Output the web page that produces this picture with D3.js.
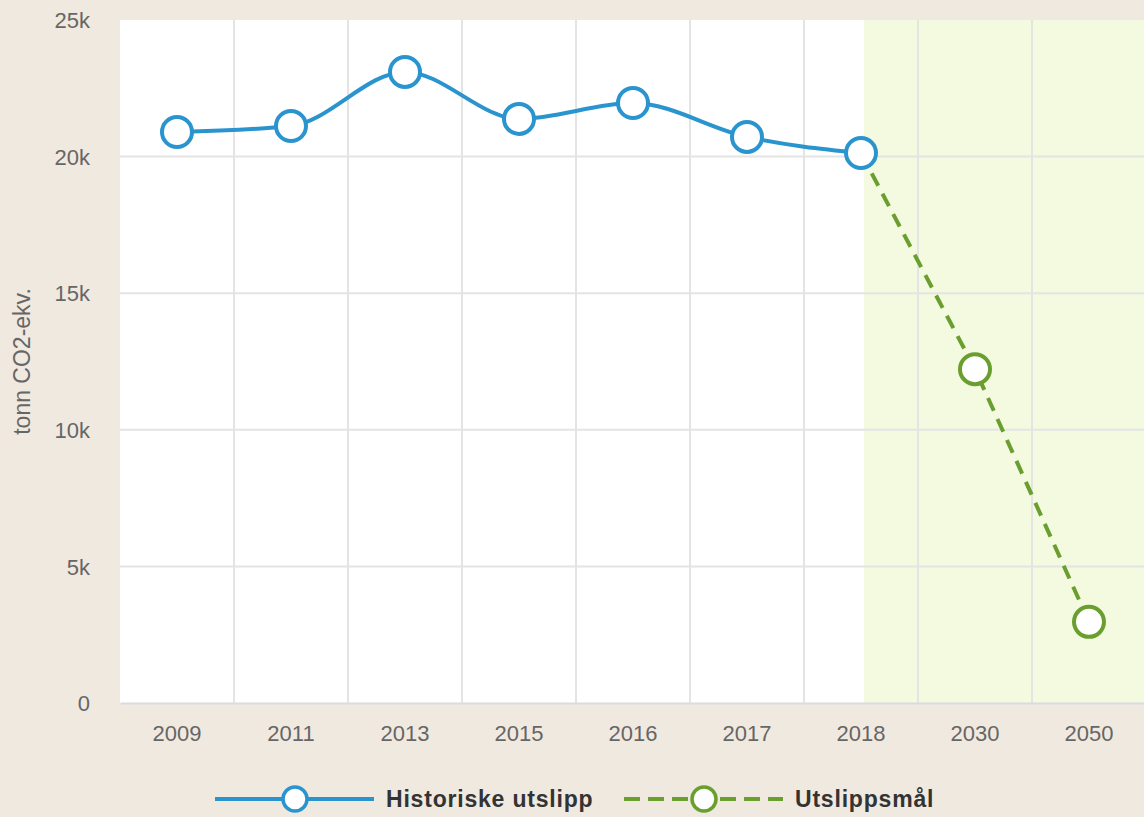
<!DOCTYPE html>
<html lang="no">
<head>
<meta charset="UTF-8">
<title>Utslipp</title>
<script src="https://cdn.jsdelivr.net/npm/d3@7"></script>
<style>
    body{
        margin: 0;
        background-color: #f0e9e0;
        font-family: "Liberation Sans", Arial, sans-serif;
        overflow: hidden;
    }
    svg{
        display: block;
    }
    .tick text{
        fill: #666;
        font-size: 22px;
    }
    .grid line{
        stroke: #e4e4e4;
        stroke-width: 2px;
    }
    .legend text{
        font-weight: bold;
        font-size: 23px;
        letter-spacing: 0.8px;
        fill: #333;
    }
</style>
</head>
<body>
<svg id="main" width="1144" height="817"></svg>
<script>
    // categories and values
    const years = ["2009","2011","2013","2015","2016","2017","2018","2030","2050"]
    const historicYears = ["2009","2011","2013","2015","2016","2017","2018"]
    const historicValues = [20900, 21120, 23100, 21380, 21960, 20720, 20130]
    const targetYears = ["2018","2030","2050"]
    const targetValues = [20130, 12220, 2970]
    const yTicks = [0, 5000, 10000, 15000, 20000, 25000]

    const seriesNames = ["Historiske utslipp","Utslippsmål"]
    const blue = "#2a94cf"
    const green = "#6a9e2e"

    const margins = {top: 20, bottom: 114, left: 120, right: -2}
    const W = 1144, H = 817

    const svg = d3.select("#main")

    const xScale = d3.scaleBand()
        .domain(years)
        .range([margins.left, W - margins.right])
    const yScale = d3.scaleLinear()
        .domain([0, 25000])
        .range([H - margins.bottom, margins.top])

    // plot background
    svg.append("rect")
        .attr("x", margins.left)
        .attr("y", margins.top)
        .attr("width", W - margins.right - margins.left)
        .attr("height", yScale(0) - margins.top)
        .attr("fill", "#fff")

    // plot band for targets (starts just after the 2018 point)
    const bandStart = xScale("2018") + xScale.bandwidth() * 0.5 + 3
    svg.append("rect")
        .attr("x", bandStart)
        .attr("y", margins.top)
        .attr("width", W - margins.right - bandStart)
        .attr("height", yScale(0) - margins.top)
        .attr("fill", "#f3fadf")

    // grid
    const grid = svg.append("g").attr("class", "grid")
    grid.selectAll(".h")
        .data(yTicks.filter(d => d > 0 && d < 25000))
        .enter().append("line")
        .attr("x1", margins.left).attr("x2", W - margins.right)
        .attr("y1", d => yScale(d)).attr("y2", d => yScale(d))
    grid.selectAll(".v")
        .data(years.slice(1))
        .enter().append("line")
        .attr("x1", d => xScale(d)).attr("x2", d => xScale(d))
        .attr("y1", margins.top).attr("y2", yScale(0))

    // axes
    const xAxis = d3.axisBottom(xScale).tickSize(0).tickPadding(22)
    svg.append("g")
        .attr("transform", `translate(0,${yScale(0)})`)
        .call(xAxis)
        .call(g => g.select(".domain").attr("stroke", "#d7dbe3").attr("stroke-width", 2))

    const yAxis = d3.axisLeft(yScale)
        .tickValues(yTicks)
        .tickSize(0)
        .tickPadding(30)
        .tickFormat(d => d === 0 ? "0" : (d / 1000) + "k")
    svg.append("g")
        .attr("transform", `translate(${margins.left},0)`)
        .call(yAxis)
        .call(g => g.select(".domain").remove())
        .selectAll("text").attr("dy", "0.35em")

    svg.append("text")
        .attr("transform", `translate(30,${(margins.top + yScale(0)) / 2}) rotate(-90)`)
        .attr("text-anchor", "middle")
        .attr("fill", "#666")
        .attr("font-size", "23px")
        .text("tonn CO2-ekv.")

    const cx = d => xScale(d) + xScale.bandwidth() / 2

    // target series (dashed)
    const targetData = targetYears.map((y, i) => ({year: y, value: targetValues[i]}))
    const targetLine = d3.line()
        .x(d => cx(d.year))
        .y(d => yScale(d.value))
    svg.append("path")
        .datum(targetData)
        .attr("d", targetLine)
        .attr("fill", "none")
        .attr("stroke", green)
        .attr("stroke-width", 4)
        .attr("stroke-dasharray", "14,9")
    svg.selectAll(".tmark")
        .data(targetData.slice(1))
        .enter().append("circle")
        .attr("cx", d => cx(d.year))
        .attr("cy", d => yScale(d.value))
        .attr("r", 15)
        .attr("fill", "#fff")
        .attr("stroke", green)
        .attr("stroke-width", 4)

    // historic series
    const histData = historicYears.map((y, i) => ({year: y, value: historicValues[i]}))
    const histLine = d3.line()
        .x(d => cx(d.year))
        .y(d => yScale(d.value))
        .curve(d3.curveMonotoneX)
    svg.append("path")
        .datum(histData)
        .attr("d", histLine)
        .attr("fill", "none")
        .attr("stroke", blue)
        .attr("stroke-width", 4)
    svg.selectAll(".hmark")
        .data(histData)
        .enter().append("circle")
        .attr("cx", d => cx(d.year))
        .attr("cy", d => yScale(d.value))
        .attr("r", 15)
        .attr("fill", "#fff")
        .attr("stroke", blue)
        .attr("stroke-width", 4)

    // legend
    const legend = svg.append("g").attr("class", "legend").attr("transform", "translate(0,799)")
    const items = [
        {name: seriesNames[0], color: blue, dash: null, x: 215},
        {name: seriesNames[1], color: green, dash: "16,8", x: 624}
    ]
    items.forEach(it => {
        const g = legend.append("g").attr("transform", `translate(${it.x},0)`)
        g.append("line")
            .attr("x1", 0).attr("x2", 159)
            .attr("stroke", it.color)
            .attr("stroke-width", 4)
            .attr("stroke-dasharray", it.dash)
        g.append("circle")
            .attr("cx", 80).attr("r", 12)
            .attr("fill", "#fff")
            .attr("stroke", it.color)
            .attr("stroke-width", 3.5)
        g.append("text")
            .attr("x", 171)
            .attr("dy", "0.36em")
            .text(it.name)
    })
</script>
</body>
</html>
